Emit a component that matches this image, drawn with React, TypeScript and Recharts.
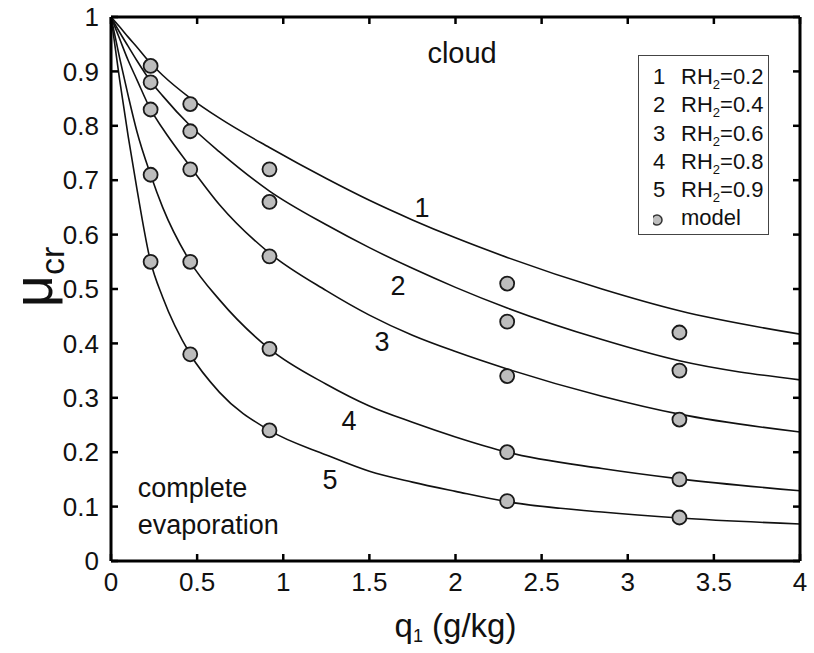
import React from "react";
import { ComposedChart, Line, Scatter, XAxis, YAxis, Legend } from "recharts";

// curve samples (q in g/kg -> mu_cr)
const qCurve = [0, 0.05, 0.1, 0.15, 0.23, 0.3, 0.46, 0.63, 0.92, 1.25, 1.5, 1.75, 2, 2.3, 2.85, 3.3, 4];
const curveRH02 = [1, 0.982, 0.963, 0.945, 0.915, 0.893, 0.851, 0.814, 0.76, 0.703, 0.663, 0.627, 0.594, 0.558, 0.5, 0.46, 0.417];
const curveRH04 = [1, 0.972, 0.946, 0.92, 0.882, 0.855, 0.8, 0.752, 0.68, 0.618, 0.576, 0.538, 0.503, 0.465, 0.407, 0.368, 0.333];
const curveRH06 = [1, 0.96, 0.92, 0.885, 0.83, 0.795, 0.725, 0.655, 0.566, 0.497, 0.452, 0.415, 0.385, 0.353, 0.303, 0.27, 0.237];
const curveRH08 = [1, 0.925, 0.855, 0.79, 0.71, 0.65, 0.55, 0.48, 0.39, 0.325, 0.285, 0.255, 0.228, 0.2, 0.17, 0.151, 0.129];
const curveRH09 = [1, 0.885, 0.78, 0.685, 0.55, 0.485, 0.38, 0.31, 0.24, 0.195, 0.165, 0.145, 0.128, 0.109, 0.09, 0.079, 0.068];

// model points
const qModel = [0.23, 0.46, 0.92, 2.3, 3.3];
const modelRH02 = [0.91, 0.84, 0.72, 0.51, 0.42];
const modelRH04 = [0.88, 0.79, 0.66, 0.44, 0.35];
const modelRH06 = [0.83, 0.72, 0.56, 0.34, 0.26];
const modelRH08 = [0.71, 0.55, 0.39, 0.2, 0.15];
const modelRH09 = [0.55, 0.38, 0.24, 0.11, 0.08];

const rhLabels = ["0.2", "0.4", "0.6", "0.8", "0.9"];
const xTicks = [0, 0.5, 1, 1.5, 2, 2.5, 3, 3.5, 4];
const yTicks = [0, 0.1, 0.2, 0.3, 0.4, 0.5, 0.6, 0.7, 0.8, 0.9, 1];

// text placed in data coordinates
const notes = [
  { text: "1", q: 1.805, mu: 0.651, anchor: "middle", size: 27 },
  { text: "2", q: 1.666, mu: 0.506, anchor: "middle", size: 27 },
  { text: "3", q: 1.573, mu: 0.404, anchor: "middle", size: 27 },
  { text: "4", q: 1.382, mu: 0.259, anchor: "middle", size: 27 },
  { text: "5", q: 1.271, mu: 0.151, anchor: "middle", size: 27 },
  { text: "cloud", q: 2.038, mu: 0.934, anchor: "middle", size: 29 },
  { text: "complete", q: 0.155, mu: 0.135, anchor: "start", size: 27 },
  { text: "evaporation", q: 0.155, mu: 0.068, anchor: "start", size: 27 },
];

const curveSeries = [curveRH02, curveRH04, curveRH06, curveRH08, curveRH09];
const modelSeries = [modelRH02, modelRH04, modelRH06, modelRH08, modelRH09];

const curveTable = qCurve.map((q, i) => {
  const row: Record<string, number> = { q };
  curveSeries.forEach((s, k) => (row["c" + (k + 1)] = s[i]));
  return row;
});
const modelTable = modelSeries.flatMap((s) => s.map((mu, i) => ({ q: qModel[i], mu })));

const font = '"Liberation Sans", Arial, sans-serif';
const GAP = 12; // tick label distance from axis line
const TICK = 7; // inward tick length

const ModelDot = (p: any) => (
  <circle cx={p.cx} cy={p.cy} r={7} fill="#bdbdbd" stroke="#1a1a1a" strokeWidth={1.8} />
);

const NoteText = (p: any) => (
  <text
    x={p.cx}
    y={p.cy}
    dy="0.36em"
    textAnchor={p.payload.anchor}
    fontFamily={font}
    fontSize={p.payload.size}
    fill="#111"
  >
    {p.payload.text}
  </text>
);

const tickStyle = { stroke: "#000", strokeWidth: 2.5 };

// ticks drawn inward, labels outside
const BottomTick = (p: any) => {
  const axisY = p.y - GAP;
  return (
    <g>
      <line x1={p.x} x2={p.x} y1={axisY} y2={axisY - TICK} {...tickStyle} />
      <text x={p.x} y={p.y} dy="0.71em" textAnchor="middle" fontFamily={font} fontSize={26} fill="#111">
        {p.payload.value}
      </text>
    </g>
  );
};
const LeftTick = (p: any) => {
  const axisX = p.x + GAP;
  return (
    <g>
      <line x1={axisX} x2={axisX + TICK} y1={p.y} y2={p.y} {...tickStyle} />
      <text x={p.x} y={p.y} dy="0.355em" textAnchor="end" fontFamily={font} fontSize={26} fill="#111">
        {p.payload.value}
      </text>
    </g>
  );
};
const TopTick = (p: any) => (
  <line x1={p.x} x2={p.x} y1={p.y} y2={p.y + TICK} {...tickStyle} />
);
const RightTick = (p: any) => (
  <line x1={p.x} x2={p.x - TICK} y1={p.y} y2={p.y} {...tickStyle} />
);

function LegendBox() {
  return (
    <div
      style={{
        border: "1px solid #444",
        background: "#fff",
        width: 131,
        height: 180,
        boxSizing: "border-box",
        padding: "7px 0 0 14px",
        fontFamily: font,
        fontSize: 22,
        lineHeight: "28.3px",
        color: "#111",
        textAlign: "left",
      }}
    >
      {rhLabels.map((rh, i) => (
        <div key={rh} style={{ display: "flex", height: 28.3 }}>
          <span style={{ width: 28 }}>{i + 1}</span>
          <span>
            RH<sub style={{ fontSize: 13, lineHeight: 0 }}>2</sub>={rh}
          </span>
        </div>
      ))}
      <div style={{ display: "flex", height: 28.3, alignItems: "center" }}>
        <svg width={28} height={28}>
          <circle cx={4} cy={15} r={5} fill="#bdbdbd" stroke="#333" strokeWidth={1.5} />
        </svg>
        <span>model</span>
      </div>
    </div>
  );
}

const frame = { stroke: "#000", strokeWidth: 3 };

export default function App() {
  return (
    <div style={{ position: "absolute", left: 0, top: 0, background: "#fff" }}>
      <ComposedChart
        width={814}
        height={653}
        data={curveTable}
        margin={{ top: 16, right: 13, bottom: 0, left: 0 }}
      >
        <XAxis
          dataKey="q"
          type="number"
          domain={[0, 4]}
          ticks={xTicks}
          allowDataOverflow
          height={92}
          tickSize={0}
          tickMargin={GAP}
          axisLine={frame}
          tickLine={false}
          tick={BottomTick}
          label={{
            content: (p: any) => {
              const vb = p.viewBox;
              return (
                <text x={vb.x + vb.width / 2} y={vb.y + 76} textAnchor="middle" fontFamily={font} fontSize={33} fill="#111">
                  q<tspan fontSize={18} dy={5}>1</tspan>
                  <tspan dy={-5}> (g/kg)</tspan>
                </text>
              );
            },
          }}
        />
        {/* mirror axes on top and right close the box (1px so they get drawn) */}
        <XAxis
          xAxisId="top"
          dataKey="q"
          orientation="top"
          type="number"
          domain={[0, 4]}
          ticks={xTicks}
          allowDataOverflow
          height={1}
          tickSize={0}
          tickMargin={0}
          axisLine={frame}
          tickLine={false}
          tick={TopTick}
        />
        <YAxis
          type="number"
          domain={[0, 1]}
          ticks={yTicks}
          allowDataOverflow
          width={111}
          tickSize={0}
          tickMargin={GAP}
          axisLine={frame}
          tickLine={false}
          tick={LeftTick}
          label={{
            content: (p: any) => {
              const vb = p.viewBox;
              const cy = vb.y + vb.height / 2 - 12;
              return (
                <text transform={`translate(52, ${cy}) rotate(-90)`} textAnchor="middle" fontFamily={font} fill="#111">
                  <tspan fontSize={56}>μ</tspan>
                  <tspan fontSize={34} dy={12}>cr</tspan>
                </text>
              );
            },
          }}
        />
        <YAxis
          yAxisId="right"
          orientation="right"
          type="number"
          domain={[0, 1]}
          ticks={yTicks}
          allowDataOverflow
          width={1}
          tickSize={0}
          tickMargin={0}
          axisLine={frame}
          tickLine={false}
          tick={RightTick}
        />
        {curveSeries.map((_, k) => (
          <Line
            key={k}
            dataKey={"c" + (k + 1)}
            type="monotone"
            stroke="#111"
            strokeWidth={1.6}
            dot={false}
            activeDot={false}
            isAnimationActive={false}
          />
        ))}
        <Scatter data={modelTable} dataKey="mu" shape={ModelDot} isAnimationActive={false} />
        <Scatter
          data={notes}
          dataKey="mu"
          xAxisId="top"
          yAxisId="right"
          shape={NoteText}
          isAnimationActive={false}
        />
        <Legend
          layout="vertical"
          align="center"
          verticalAlign="middle"
          content={() => <LegendBox />}
          wrapperStyle={{ top: 55, left: 638, width: 131, height: 180 }}
        />
      </ComposedChart>
    </div>
  );
}
